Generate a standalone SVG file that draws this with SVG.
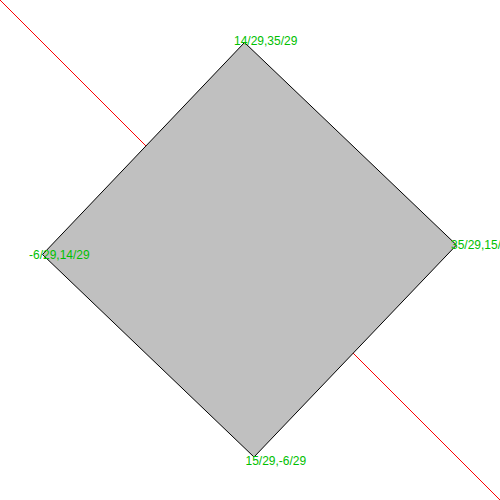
<svg xmlns="http://www.w3.org/2000/svg" width="500" height="500" viewBox="0 0 500 500">
<style>
.lbl{font-family:"Liberation Sans",Arial,sans-serif;font-size:12px;fill:#00c000}
</style>
<rect width="500" height="500" fill="#ffffff"/>
<g id="connectors">
<line x1="0" y1="0" x2="500" y2="500" stroke="#ff0000" stroke-width="1"/>
</g>
<g id="diamond">
<polygon points="244.5,42.5 456.5,245 254,457 42.5,254.5" fill="#c0c0c0" stroke="#000000" stroke-width="1"/>
</g>
<g id="labels">
<text class="lbl" x="234" y="45">14/29,35/29</text>
<text class="lbl" x="29" y="259">-6/29,14/29</text>
<text class="lbl" x="451" y="249">35/29,15/29</text>
<text class="lbl" x="245.5" y="465">15/29,-6/29</text>
</g>
</svg>
